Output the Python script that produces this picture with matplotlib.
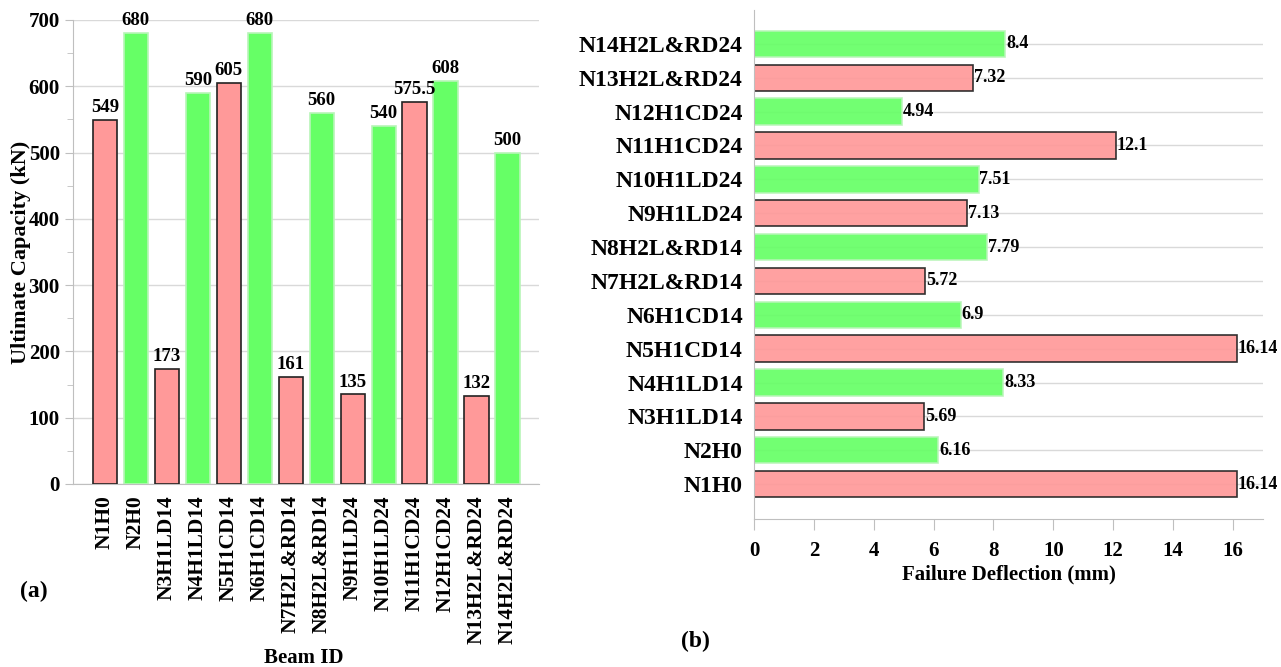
import numpy as np
import matplotlib.pyplot as plt

plt.rcParams['font.family'] = ['Liberation Serif', 'DejaVu Serif']
plt.rcParams['font.weight'] = 'bold'

beams = ['N1H0', 'N2H0', 'N3H1LD14', 'N4H1LD14', 'N5H1CD14', 'N6H1CD14',
         'N7H2L&RD14', 'N8H2L&RD14', 'N9H1LD24', 'N10H1LD24', 'N11H1CD24',
         'N12H1CD24', 'N13H2L&RD24', 'N14H2L&RD24']
capacity = [549, 680, 173, 590, 605, 680, 161, 560, 135, 540, 575.5, 608, 132, 500]
deflection = [16.14, 6.16, 5.69, 8.33, 16.14, 6.9, 5.72, 7.79, 7.13, 7.51,
              12.1, 4.94, 7.32, 8.4]

RED = '#ff9999'
GREEN = '#66ff66'
GRID = '#d9d9d9'
AXIS = '#bfbfbf'

idx = np.arange(len(beams))
face = [RED if i % 2 == 0 else GREEN for i in idx]
edge = ['#222222' if i % 2 == 0 else '#b8f5b8' for i in idx]

fig = plt.figure(figsize=(12.81, 6.67), dpi=100)

# (a) ultimate capacity
ax1 = fig.add_axes([0.057, 0.2744, 0.3638, 0.6957])
ax1.bar(idx, capacity, width=0.78, color=face, edgecolor=edge, linewidth=1.2, zorder=3)
for i, v in zip(idx, capacity):
    ax1.text(i, v + 6, f'{v:g}', ha='center', va='bottom', fontsize=13.5, fontweight='bold')
ax1.set_xlim(-1.03, 14.02)
ax1.set_ylim(0, 700)
ax1.set_yticks(np.arange(0, 701, 100))
ax1.set_yticks(np.arange(50, 700, 100), minor=True)
ax1.set_xticks(idx)
ax1.set_xticklabels(beams, rotation=90, fontsize=15.5, fontweight='bold')
ax1.tick_params(axis='y', labelsize=15, colors=AXIS, labelcolor='black', length=6)
ax1.tick_params(axis='y', which='minor', colors=AXIS, length=4)
ax1.tick_params(axis='x', length=0, pad=8)
ax1.grid(axis='y', color=GRID, linewidth=1, zorder=0)
ax1.set_axisbelow(True)
for s in ['top', 'right']:
    ax1.spines[s].set_visible(False)
ax1.spines['left'].set_color(AXIS)
ax1.spines['bottom'].set_color(AXIS)
ax1.set_ylabel('Ultimate Capacity (kN)', fontsize=16, fontweight='bold', labelpad=-2)
fig.text(0.237, 0.0135, 'Beam ID', ha='center', va='center', fontsize=15, fontweight='bold')

# (b) failure deflection
ax2 = fig.add_axes([0.5886, 0.2219, 0.3973, 0.7631])
ax2.grid(axis='y', color=GRID, linewidth=1, zorder=0)
ax2.barh(idx, deflection, height=0.78, color=face, edgecolor=edge, linewidth=1.2,
         alpha=0.92, zorder=2)
for i, v in zip(idx, deflection):
    ax2.text(v + 0.02, i, f'{v:g}', ha='left', va='center', fontsize=13, fontweight='bold')
ax2.set_xlim(0, 17)
ax2.set_ylim(-1.03, 14)
ax2.set_xticks(np.arange(0, 17, 2))
ax2.set_yticks(idx)
ax2.set_yticklabels(beams, fontsize=17, fontweight='bold')
ax2.tick_params(axis='x', labelsize=15, colors=AXIS, labelcolor='black', length=8, pad=8)
ax2.tick_params(axis='y', length=0, pad=8)
for s in ['top', 'right']:
    ax2.spines[s].set_visible(False)
ax2.spines['left'].set_color(AXIS)
ax2.spines['bottom'].set_color(AXIS)
ax2.set_xlabel('Failure Deflection (mm)', fontsize=15, fontweight='bold', labelpad=2)

fig.text(0.016, 0.105, '(a)', fontsize=17, fontweight='bold')
fig.text(0.532, 0.03, '(b)', fontsize=17, fontweight='bold')

fig.savefig('out.png', dpi=100)
